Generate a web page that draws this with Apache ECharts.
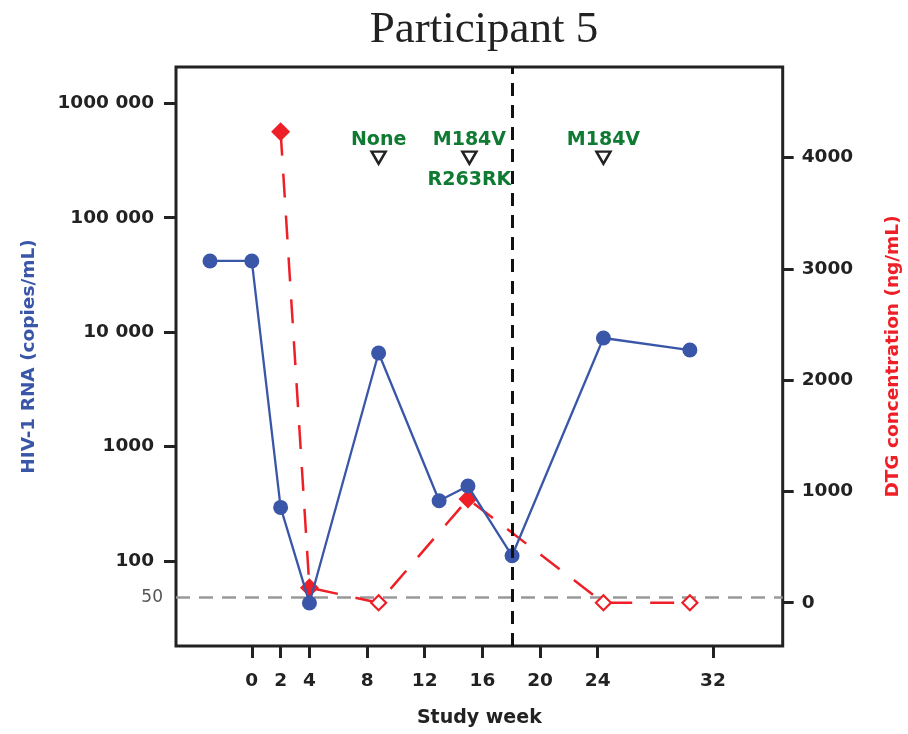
<!DOCTYPE html>
<html><head><meta charset="utf-8">
<script src="https://cdn.jsdelivr.net/npm/echarts@6/dist/echarts.min.js"></script>
<style>html,body{margin:0;padding:0;background:#fff}#c{width:908px;height:734px}</style>
</head><body><div id="c"></div>
<script>
// ---- data ----
const rnaWeeks = [-2.9, 0, 2, 4, 8.8, 13, 15, 18.06, 24.4, 30.4];
const rnaValues = [41900, 41900, 294, 43, 6570, 336, 452, 111, 8890, 6980];
const dtgWeeks = [2, 4, 8.8, 15, 24.4, 30.4];
const dtgValues = [4234, 135, 0, 932, 0, 0];
const dtgBelowLimit = [false, false, true, false, true, true];
const resistWeeks = [8.8, 15.1, 24.4];
const resistLine1 = ['None', 'M184V', 'M184V'];
const resistLine2 = ['', 'R263RK', ''];
const resistLevel = 4000;
const weekTicks = [0, 2, 4, 8, 12, 16, 20, 24, 32];
const rnaTicks = [100, 1000, 10000, 100000, 1000000];
const dtgTicks = [0, 1000, 2000, 3000, 4000];
const rnaLimit = 50;
const switchWeek = 18.06;

// ---- style ----
const BLUE = '#3a56a8', RED = '#ee1f26', GREEN = '#0e7a32', INK = '#222';
const FONT = 'DejaVu Sans';
const tickStyle = { show: true, length: 12, lineStyle: { color: INK, width: 3 } };
const labelStyle = { color: INK, fontFamily: FONT, fontWeight: 'bold', fontSize: 18.5 };
function fmtRna(v) { const s = String(Math.round(v)); return v >= 10000 ? s.replace(/(\d{3})$/, ' $1') : s; }
const hiddenLine = { show: false, onZero: false };
const greenText = { color: GREEN, fontFamily: FONT, fontWeight: 'bold', fontSize: 19,
                    textBorderWidth: 0, textShadowBlur: 0, opacity: 1 };

const chart = echarts.init(document.getElementById('c'), null, { renderer: 'canvas' });
chart.setOption({
  animation: false,
  backgroundColor: '#fff',
  title: {
    text: 'Participant 5', left: 479, top: 3, textAlign: 'center',
    textStyle: { fontFamily: 'Liberation Serif', fontSize: 45, fontWeight: 'normal', color: INK }
  },
  grid: {
    left: 176, right: 125.3, top: 67, bottom: 88, outerBoundsMode: 'none',
    show: true, borderColor: INK, borderWidth: 3, backgroundColor: 'transparent'
  },
  xAxis: {
    type: 'value', min: -5.26, max: 36.84,
    axisLine: hiddenLine, splitLine: { show: false },
    axisTick: Object.assign({ customValues: weekTicks }, tickStyle),
    axisLabel: Object.assign({ customValues: weekTicks, margin: 26, formatter: v => String(v) }, labelStyle),
    name: 'Study week', nameLocation: 'middle', nameGap: 63,
    nameTextStyle: { color: INK, fontFamily: FONT, fontWeight: 'bold', fontSize: 19 }
  },
  yAxis: [{
    type: 'log', min: 18.08, max: 2076000, position: 'left',
    axisLine: hiddenLine, splitLine: { show: false },
    axisTick: Object.assign({ customValues: rnaTicks }, tickStyle),
    axisLabel: Object.assign({ customValues: rnaTicks, margin: 22, formatter: fmtRna }, labelStyle),
    name: 'HIV-1 RNA (copies/mL)', nameLocation: 'middle', nameGap: 137,
    nameTextStyle: { color: BLUE, fontFamily: FONT, fontWeight: 'bold', fontSize: 18.5 }
  }, {
    type: 'value', min: -389, max: 4815, position: 'right',
    axisLine: hiddenLine, splitLine: { show: false },
    axisTick: Object.assign({ customValues: dtgTicks }, tickStyle, { length: 11 }),
    axisLabel: Object.assign({ customValues: dtgTicks, margin: 19, formatter: v => String(v) }, labelStyle),
    name: 'DTG concentration (ng/mL)', nameLocation: 'middle', nameGap: 101,
    nameTextStyle: { color: RED, fontFamily: FONT, fontWeight: 'bold', fontSize: 18.5 }
  }],
  series: [{
    name: 'DTG', type: 'line', yAxisIndex: 1, z: 2,
    lineStyle: { color: RED, width: 2.5, type: [24, 18] },
    itemStyle: { color: RED },
    data: dtgWeeks.map((w, i) => ({
      value: [w, dtgValues[i]], symbol: 'diamond',
      symbolSize: dtgBelowLimit[i] ? 15 : 19,
      itemStyle: dtgBelowLimit[i] ? { color: '#fff', borderColor: RED, borderWidth: 2.2 } : { color: RED }
    })),
    markLine: {
      silent: true, symbol: ['none', 'none'], z: 1,
      lineStyle: { color: '#999', width: 2.5, type: [14, 9] },
      label: { show: true, position: 'start', distance: 13, formatter: String(rnaLimit),
               color: '#555', fontFamily: FONT, fontSize: 17 },
      data: [{ yAxis: rnaLimit }]
    }
  }, {
    name: 'HIV-1 RNA', type: 'line', yAxisIndex: 0, z: 3,
    symbol: 'circle', symbolSize: 15,
    lineStyle: { color: BLUE, width: 2.3 }, itemStyle: { color: BLUE },
    data: rnaWeeks.map((w, i) => [w, rnaValues[i]])
  }, {
    name: 'resistance', type: 'scatter', yAxisIndex: 1, z: 4,
    symbol: 'triangle', symbolRotate: 180, symbolSize: [14, 12],
    itemStyle: { color: '#fff', borderColor: INK, borderWidth: 2.5, opacity: 1 },
    label: Object.assign({ show: true, position: 'top', distance: 1,
             formatter: p => resistLine1[p.dataIndex] }, greenText),
    data: resistWeeks.map(w => [w, resistLevel])
  }, {
    name: 'resistance2', type: 'scatter', yAxisIndex: 1, z: 5,
    symbol: 'circle', symbolSize: 0.1, itemStyle: { color: 'rgba(0,0,0,0)' },
    label: Object.assign({ show: true, position: 'bottom', distance: 13,
             formatter: p => p.data.txt }, greenText),
    data: resistWeeks.map((w, i) => ({ value: [w, resistLevel], txt: resistLine2[i] })).filter(d => d.txt),
    markLine: {
      silent: true, symbol: ['none', 'none'], z: 6,
      lineStyle: { color: '#111', width: 3, type: [13, 9] },
      label: { show: false },
      data: [{ xAxis: switchWeek }]
    }
  }]
});
</script></body></html>
